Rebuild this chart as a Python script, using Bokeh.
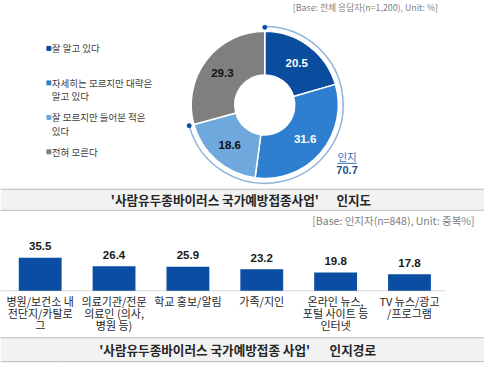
import math
from bokeh.plotting import figure
from bokeh.models import Range1d, ColumnDataSource
from bokeh.core.properties import value
from bokeh.embed import file_html
from bokeh.resources import INLINE

# ---------------- data ----------------
aware_labels = ["잘 알고 있다", "자세히는 모르지만 대략은\n알고 있다", "잘 모르지만 들어본 적은\n있다", "전혀 모른다"]
aware_values = [20.5, 31.6, 18.6, 29.3]
aware_colors = ["#0a4c9e", "#2f7fd0", "#6fa8dc", "#7f7f7f"]
aware_label_colors = ["white", "white", "#111111", "#111111"]
aware_total_label = "인지"
aware_total = 70.7
note_top = "[Base: 전체 응답자(n=1,200), Unit: %]"
title_top = ("'사람유두종바이러스 국가예방접종사업'", "인지도")

route_labels = ["병원/보건소 내\n전단지/카탈로\n그", "의료기관/전문\n의료인 (의사,\n병원 등)", "학교 홍보/알림",
                "가족/지인", "온라인 뉴스,\n포털 사이트 등\n인터넷", "TV 뉴스/광고\n/프로그램"]
route_values = [35.5, 26.4, 25.9, 23.2, 19.8, 17.8]
note_bottom = "[Base:  인지자(n=848),  Unit:  중복%]"
title_bottom = ("'사람유두종바이러스 국가예방접종 사업'", "인지경로")

KR = value("Noto Sans CJK KR")
NUM = value("Liberation Sans")

W, H = 500, 381


def Y(y):
    return H - y


p = figure(width=484, height=365, x_range=Range1d(0, W), y_range=Range1d(0, H),
           output_backend="svg", toolbar_location=None, min_border=0)
p.axis.visible = False
p.grid.visible = False
p.outline_line_color = None
p.background_fill_color = "white"

# ---------------- donut ----------------
cx, cy = 273, Y(109)
r_in, r_out = 31, 76
fr = [v / 100 for v in aware_values]
starts, ends, lx, ly = [], [], [], []
acc = 0.0
for f in fr:
    f0, f1 = acc, acc + f
    starts.append(math.pi / 2 - 2 * math.pi * f1)
    ends.append(math.pi / 2 - 2 * math.pi * f0)
    mid = (f0 + f1) / 2
    rm = 55
    lx.append(cx + rm * math.sin(2 * math.pi * mid))
    ly.append(cy + rm * math.cos(2 * math.pi * mid))
    acc = f1

src = ColumnDataSource(dict(start=starts, end=ends, color=aware_colors,
                            lx=lx, ly=ly, txt=[f"{v:.1f}" for v in aware_values],
                            tc=aware_label_colors))
p.annular_wedge(x=cx, y=cy, inner_radius=r_in, outer_radius=r_out, start_angle="start",
                end_angle="end", direction="anticlock", fill_color="color",
                line_color="white", line_width=1.5, source=src)
p.text(x="lx", y="ly", text="txt", text_color="tc", text_font=NUM, text_font_style="bold",
       text_font_size="11.5px", text_align="center", text_baseline="middle", source=src)

# outer bracket arc for 인지
r_arc = 81
a_end = math.pi / 2
a_start = math.pi / 2 - 2 * math.pi * aware_total / 100
p.arc(x=cx, y=cy, radius=r_arc, start_angle=a_start, end_angle=a_end, direction="anticlock",
      line_color="#8fb1da", line_width=1.5)
p.scatter(x=[cx + r_arc * math.cos(a_end), cx + r_arc * math.cos(a_start)],
          y=[cy + r_arc * math.sin(a_end), cy + r_arc * math.sin(a_start)],
          size=4, color="#0a4c9e")
p.text(x=[358], y=[Y(163)], text=[aware_total_label], text_font=KR, text_font_size="10.5px",
       text_color="#2f6db5", text_align="center", text_baseline="middle")
p.segment(x0=[348], y0=[Y(170)], x1=[368], y1=[Y(170)], line_color="#2f6db5", line_width=1)
p.text(x=[358], y=[Y(177)], text=[f"{aware_total:.1f}"], text_font=NUM, text_font_style="bold",
       text_font_size="11px", text_color="#1f4e8c", text_align="center", text_baseline="middle")

# legend (each label split into lines)
leg_y = [Y(50 + 36 * i) for i in range(len(aware_labels))]
p.scatter(x=[50] * len(aware_labels), y=leg_y, marker="square", size=4,
          color=aware_colors)
lx_, ly_, lt_ = [], [], []
for i, lab in enumerate(aware_labels):
    for j, line in enumerate(lab.split("\n")):
        lx_.append(53)
        ly_.append(leg_y[i] - 14 * j)
        lt_.append(line)
p.text(x=lx_, y=ly_, text=lt_, text_font=KR, text_font_size="9.5px", text_color="#404040",
       text_align="left", text_baseline="middle")

# top note
p.text(x=[452], y=[Y(7)], text=[note_top], text_font=KR, text_font_size="8.8px",
       text_color="#808080", text_align="right", text_baseline="middle")


# ---------------- title bands ----------------
def band(top, bottom, texts, x_left, x_right, ty):
    p.quad(left=0, right=W, top=Y(top), bottom=Y(bottom), fill_color="#f2f2f2", line_color=None)
    for yy in (top, bottom):
        p.segment(x0=[0], y0=[Y(yy)], x1=[W], y1=[Y(yy)], line_color="#7f7f7f",
                  line_width=1, line_dash="1 1")
    p.text(x=[x_left], y=[Y(ty)], text=[texts[0]], text_font=KR, text_font_style="bold",
           text_font_size="12.6px", text_color="#262626", text_align="left", text_baseline="middle")
    p.text(x=[x_right], y=[Y(ty)], text=[texts[1]], text_font=KR, text_font_style="bold",
           text_font_size="12.6px", text_color="#262626", text_align="left", text_baseline="middle")


band(197, 219, title_top, 114, 347, 208)
band(352, 377, title_bottom, 102, 340, 364)

# bottom note
p.text(x=[497], y=[Y(230)], text=[note_bottom], text_font=KR, text_font_size="10.5px",
       text_color="#808080", text_align="right", text_baseline="middle")

# ---------------- bars ----------------
px_per_unit = 0.97
base_y = Y(303)
p.extra_y_ranges = {"val": Range1d(-base_y / px_per_unit, (H - base_y) / px_per_unit)}
spacing = 76.3
first_c = 41
x0 = 0.5 - first_c / spacing
p.extra_x_ranges = {"cat": Range1d(x0, x0 + W / spacing)}

xs = [i + 0.5 for i in range(len(route_values))]
bsrc = ColumnDataSource(dict(x=xs, top=route_values, lab=[f"{v:.1f}" for v in route_values],
                             ly=[v + 12 / px_per_unit for v in route_values]))
p.segment(x0=[0], y0=[base_y], x1=[460], y1=[base_y], line_color="#d9d9d9", line_width=1)
p.vbar(x="x", top="top", bottom=0, width=0.58, fill_color="#0b4da2", line_color=None,
       source=bsrc, x_range_name="cat", y_range_name="val")
p.text(x="x", y="ly", text="lab", text_font=NUM, text_font_style="bold", text_font_size="11.5px",
       text_color="#1a1a1a", text_align="center", text_baseline="middle", source=bsrc,
       x_range_name="cat", y_range_name="val")

cx_, cy_, ct_ = [], [], []
for i, lab in enumerate(route_labels):
    for j, line in enumerate(lab.split("\n")):
        cx_.append(xs[i])
        cy_.append(-(11 + 12.5 * j) / px_per_unit)
        ct_.append(line)
p.text(x=cx_, y=cy_, text=ct_, text_font=KR, text_font_size="11px", text_color="#262626",
       text_align="center", text_baseline="middle", x_range_name="cat", y_range_name="val")

open("out.html", "w").write(file_html(p, INLINE))
